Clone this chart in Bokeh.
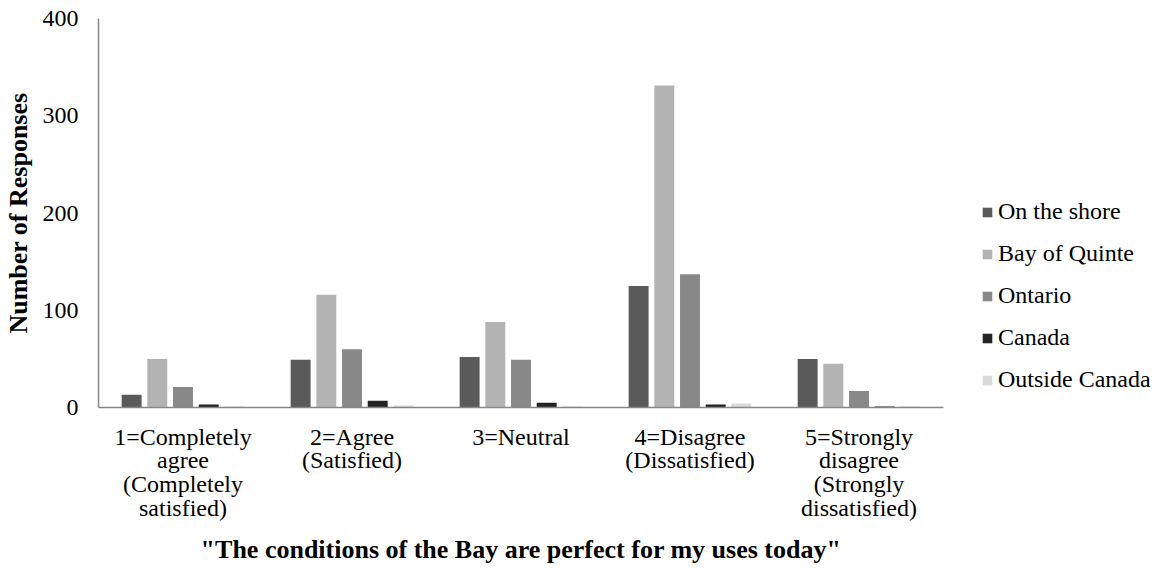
from bokeh.plotting import figure
from bokeh.models import FactorRange, ColumnDataSource, Legend, LegendItem, FixedTicker
from bokeh.transform import dodge
from bokeh.embed import file_html
from bokeh.resources import INLINE

categories = ["1=Completely\nagree\n(Completely\nsatisfied)",
              "2=Agree\n(Satisfied)",
              "3=Neutral",
              "4=Disagree\n(Dissatisfied)",
              "5=Strongly\ndisagree\n(Strongly\ndissatisfied)"]
series_names = ["On the shore", "Bay of Quinte", "Ontario", "Canada", "Outside Canada"]
on_the_shore = [13, 49, 52, 125, 50]
bay_of_quinte = [50, 116, 88, 331, 45]
ontario = [21, 60, 49, 137, 17]
canada = [3, 7, 5, 3, 1]
outside_canada = [1, 2, 1, 4, 1]
y_ticks = [0, 100, 200, 300, 400]

colors = ["#5a5a5a", "#b3b3b3", "#888888", "#232323", "#dadada"]
FONT = "Liberation Serif"

src = ColumnDataSource(dict(cat=categories, s0=on_the_shore, s1=bay_of_quinte,
                            s2=ontario, s3=canada, s4=outside_canada))

p = figure(frame_width=845, frame_height=389, x_range=FactorRange(*categories, range_padding=0),
           y_range=(0, 400), output_backend="svg", toolbar_location=None,
           min_border_left=98, min_border_right=0, min_border_top=18, min_border_bottom=164)

offsets = [-0.304, -0.152, 0.0, 0.152, 0.304]
renderers = []
for i, key in enumerate(["s0", "s1", "s2", "s3", "s4"]):
    r = p.vbar(x=dodge("cat", offsets[i], range=p.x_range), top=key, width=0.118,
               source=src, fill_color=colors[i], line_color=None)
    renderers.append(r)

p.xgrid.visible = False
p.ygrid.visible = False
p.outline_line_color = None

p.yaxis.ticker = FixedTicker(ticks=y_ticks)
for ax in (p.xaxis[0], p.yaxis[0]):
    ax.axis_line_color = "#868686"
    ax.axis_line_width = 1.5
    ax.major_tick_line_color = None
    ax.major_tick_out = 0
    ax.major_tick_in = 0
    ax.minor_tick_line_color = None
    ax.minor_tick_out = 0
    ax.major_label_text_font = FONT
    ax.major_label_text_font_size = "24px"
    ax.major_label_text_color = "#000000"
    ax.major_label_text_line_height = 0.92
    ax.axis_label_text_font = FONT
    ax.axis_label_text_font_size = "26px"
    ax.axis_label_text_font_style = "bold"
    ax.axis_label_text_color = "#000000"

p.yaxis.major_label_standoff = 20
p.xaxis.major_label_standoff = 16
p.yaxis.axis_label = "Number of Responses"
p.xaxis.axis_label = "\"The conditions of the Bay are perfect for my uses today\""
p.yaxis.axis_label_standoff = 7
p.xaxis.axis_label_standoff = 11

legend = Legend(items=[LegendItem(label=n, renderers=[r]) for n, r in zip(series_names, renderers)],
                location=(38, 14), border_line_color=None, background_fill_alpha=0,
                label_text_font=FONT, label_text_font_size="24px", label_text_color="#000000",
                glyph_width=12, glyph_height=12, label_height=24, spacing=15, padding=0,
                margin=0, label_standoff=5)
p.add_layout(legend, "right")

open("out.html", "w").write(file_html(p, INLINE))
